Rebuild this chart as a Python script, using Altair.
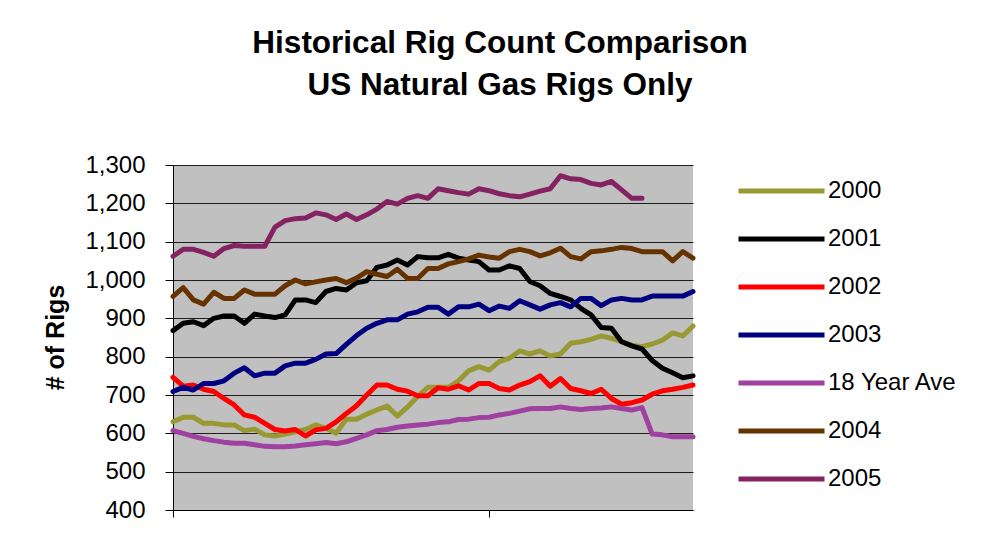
import altair as alt
import pandas as pd

series_names = ["2000", "2001", "2002", "2003", "18 Year Ave", "2004", "2005"]
series_colors = ["#999933", "#000000", "#FF0000", "#000080", "#A040A0", "#663300", "#842262"]
series_widths = [5, 5, 5, 5, 6.5, 5, 5]

y2000 = [630, 642, 642, 626, 626, 622, 622, 607, 611, 596, 593, 598, 604, 610, 622, 613, 600, 637, 637, 650,
         661, 671, 645, 669, 696, 720, 720, 720, 737, 763, 774, 765, 787, 796, 815, 807, 815, 802, 807, 835,
         839, 845, 854, 848, 839, 830, 826, 833, 843, 862, 854, 880]
y2001 = [868, 887, 891, 881, 900, 906, 906, 887, 911, 906, 902, 909, 948, 948, 941, 970, 978, 974, 993, 998,
         1033, 1039, 1052, 1039, 1061, 1058, 1058, 1067, 1057, 1052, 1048, 1026, 1026, 1037, 1030, 996, 985, 965, 957, 948,
         926, 909, 876, 874, 839, 828, 820, 790, 770, 758, 745, 750]
y2002 = [746, 723, 726, 715, 709, 691, 674, 648, 642, 626, 610, 606, 610, 593, 609, 613, 630, 652, 672, 700,
         726, 726, 715, 710, 698, 698, 719, 715, 724, 713, 730, 730, 717, 713, 726, 735, 750, 723, 743, 717,
         711, 704, 715, 691, 676, 680, 687, 702, 711, 715, 720, 726]
y2003 = [709, 720, 713, 730, 730, 737, 757, 771, 750, 757, 757, 776, 783, 783, 793, 807, 808, 832, 855, 874,
         887, 896, 896, 911, 917, 929, 929, 911, 930, 930, 937, 920, 932, 926, 946, 935, 924, 935, 941, 930,
         952, 952, 933, 948, 952, 948, 948, 958, 958, 958, 958, 970]
y18ave = [607, 600, 592, 586, 581, 577, 574, 574, 570, 566, 565, 565, 567, 570, 573, 576, 573, 578, 587, 596,
          607, 610, 616, 619, 622, 624, 628, 630, 636, 637, 641, 642, 648, 652, 658, 664, 665, 665, 669, 665,
          662, 665, 666, 669, 665, 661, 667, 598, 596, 591, 591, 591]
y2004 = [957, 980, 948, 937, 968, 952, 952, 974, 963, 963, 963, 985, 1000, 990, 995, 1000, 1004, 993, 1005, 1022,
         1015, 1009, 1028, 1004, 1004, 1030, 1030, 1042, 1048, 1055, 1065, 1060, 1057, 1074, 1080, 1074, 1063, 1071, 1083, 1061,
         1055, 1074, 1076, 1080, 1085, 1082, 1074, 1074, 1074, 1050, 1074, 1057]
y2005 = [1062, 1080, 1080, 1072, 1062, 1082, 1090, 1088, 1088, 1088, 1138, 1155, 1160, 1162, 1175, 1170, 1158, 1172, 1158, 1170,
         1185, 1205, 1198, 1213, 1220, 1213, 1238, 1233, 1228, 1224, 1238, 1233, 1225, 1220, 1217, 1224, 1232, 1238, 1272, 1264,
         1262, 1252, 1248, 1257, 1235, 1213, 1213]

y_ticks = [400, 500, 600, 700, 800, 900, 1000, 1100, 1200, 1300]
x_ticks = [0, 31]

all_values = [y2000, y2001, y2002, y2003, y18ave, y2004, y2005]
rows = []
for name, vals in zip(series_names, all_values):
    for i, v in enumerate(vals):
        rows.append({"week": i, "series": name, "rigs": v})
df = pd.DataFrame(rows)

font = "Liberation Sans"

chart = alt.Chart(df).mark_line(strokeJoin="round", strokeCap="round").encode(
    x=alt.X("week:Q", scale=alt.Scale(domain=[0, 51], nice=False, zero=False),
            axis=alt.Axis(values=x_ticks, labels=False, title=None, grid=False, tickSize=7,
                          tickColor="#000000", domainColor="#000000", tickWidth=1, domainWidth=1)),
    y=alt.Y("rigs:Q", scale=alt.Scale(domain=[400, 1300], nice=False, zero=False),
            axis=alt.Axis(values=y_ticks, format=",.0f", title="# of Rigs", grid=True,
                          gridColor="#000000", gridWidth=1, gridOpacity=0.85,
                          tickSize=8, tickColor="#000000", domainColor="#000000",
                          labelFont=font, labelFontSize=24, labelColor="#000000", labelPadding=20,
                          titleFont=font, titleFontSize=25, titleFontWeight="bold", titleColor="#000000",
                          titleX=-118, titleY=172, titleAngle=270, titleAlign="center",
                          titleBaseline="middle")),
    color=alt.Color("series:N", scale=alt.Scale(domain=series_names, range=series_colors),
                    sort=series_names,
                    legend=alt.Legend(title=None, orient="none", legendX=563, legendY=2,
                                      symbolType="stroke", symbolSize=7396, symbolStrokeWidth=5,
                                      clipHeight=48, rowPadding=0, padding=0,
                                      labelFont=font, labelFontSize=24, labelColor="#000000",
                                      labelOffset=1, labelLimit=300)),
    strokeWidth=alt.StrokeWidth("series:N", scale=alt.Scale(domain=series_names, range=series_widths),
                                legend=None),
    detail="series:N",
).properties(
    width=520,
    height=345,
    background="#FFFFFF",
    autosize=alt.AutoSizeParams(type="none"),
    padding={"left": 165, "top": 157, "right": 280, "bottom": 25},
    title=alt.TitleParams(text=["Historical Rig Count Comparison", "US Natural Gas Rigs Only"],
                          font=font, fontSize=31.5, fontWeight="bold", color="#000000",
                          anchor="middle", frame="group", dx=67, lineHeight=42, offset=52),
).configure_view(
    fill="#C0C0C0", strokeWidth=0
)

chart.save("out.html", embed_options={"renderer": "svg", "actions": False})
